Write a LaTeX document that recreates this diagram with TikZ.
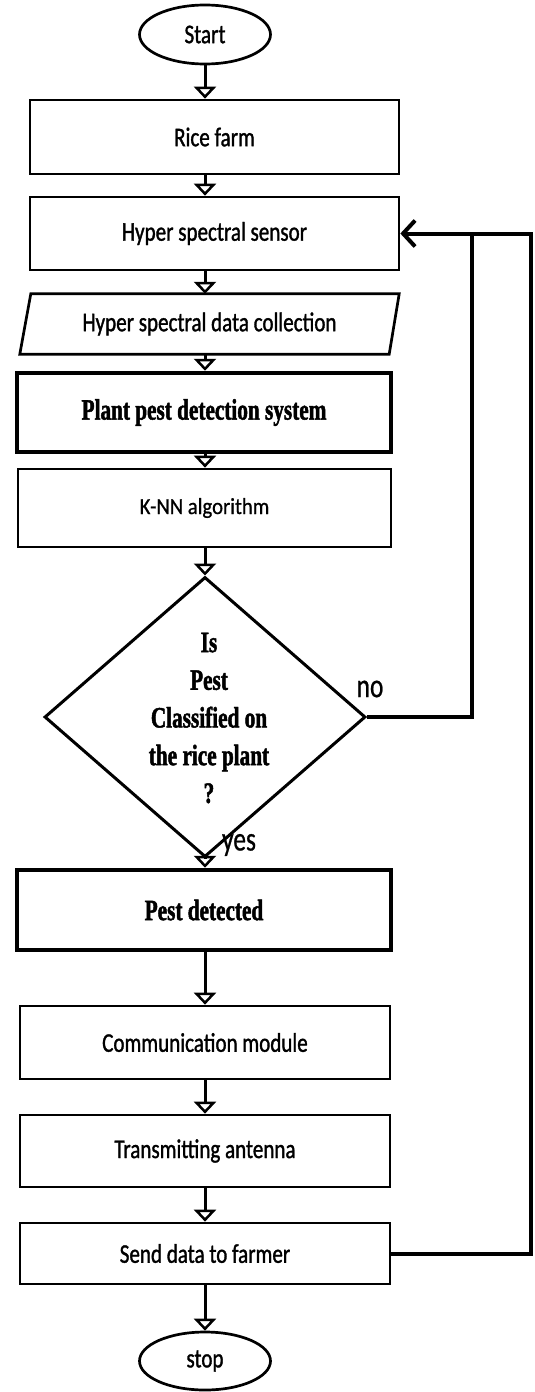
\documentclass[tikz,border=0pt]{standalone}
\usepackage{fontspec}
\setmainfont{Carlito}
\newfontfamily\calfont[FakeStretch=0.78,FakeBold=1.2]{Carlito}
\newfontfamily\knnfont[FakeStretch=0.9,FakeBold=0.8]{Carlito}
\newfontfamily\lblfont[FakeStretch=0.75,FakeBold=0.6]{Carlito}
\newfontfamily\timesfont[FakeStretch=0.72,FakeBold=1.6]{Liberation Serif}
\usetikzlibrary{arrows.meta,shapes.geometric,calc}
\begin{document}
\begin{tikzpicture}[x=1pt,y=-1pt,
  box/.style={draw, rectangle, line width=2.7pt, inner sep=0pt, font=\calfont\fontsize{27}{30}\selectfont},
  thickbox/.style={box, line width=4.5pt, font=\timesfont\bfseries\fontsize{29.5}{32}\selectfont},
  term/.style={draw, ellipse, line width=2.7pt, inner sep=0pt, minimum width=131pt, font=\calfont\fontsize{27}{30}\selectfont},
  flow/.style={line width=3pt, -{Triangle[open,length=12pt,width=22pt,line width=2.5pt]}},
  fb/.style={line width=4pt},
  lbl/.style={inner sep=0pt, font=\lblfont\fontsize{34}{38}\selectfont}
  ]
\useasboundingbox (0,0) rectangle (535,1392);
\coordinate (ax) at (205,0);

\node[term, minimum height=59pt] (start) at (205,34.5) {Start};
\node[box, minimum width=369pt, minimum height=74pt] (rice) at (214.5,137) {Rice farm};
\node[box, minimum width=369pt, minimum height=73pt] (sensor) at (214.5,233.5) {Hyper spectral sensor};
\node[inner sep=0pt, minimum width=369pt, minimum height=60pt, font=\calfont\fontsize{27}{30}\selectfont] (coll) at (209.5,324) {Hyper spectral data collection};
\draw[line width=2.7pt, line join=miter] ($(coll.north west)+(6,0)$) -- ($(coll.north east)+(5,0)$) -- ($(coll.south east)+(-5,0)$) -- ($(coll.south west)+(-5,0)$) -- cycle;
\node[thickbox, minimum width=374pt, minimum height=79pt] (plant) at (204,412.5) {Plant pest detection system};
\node[box, minimum width=373pt, minimum height=78pt, font=\knnfont\fontsize{23}{26}\selectfont] (knn) at (204.5,508) {K-NN algorithm};
\node[draw, diamond, line width=3pt, inner sep=0pt, minimum width=321pt, minimum height=280pt] (dec) at (205,717) {};
\node[align=center, inner sep=0pt, font=\timesfont\bfseries\fontsize{29.5}{37.7}\selectfont] (dectxt) at (209,718) {Is\\Pest\\Classified on\\the rice plant\\?};
\node[thickbox, minimum width=374pt, minimum height=80pt] (pestd) at (204,910) {Pest detected};
\node[box, minimum width=370pt, minimum height=73pt] (comm) at (205,1042.5) {Communication module};
\node[box, minimum width=370pt, minimum height=72pt] (trans) at (205,1151) {Transmitting antenna};
\node[box, minimum width=370pt, minimum height=61pt] (send) at (205,1253.5) {Send data to farmer};
\node[term, minimum height=58pt] (stop) at (205,1361) {stop};

\node[lbl] (nolbl) at (370,689) {no};
\node[lbl] (yeslbl) at (239,845) {yes};

\draw[flow] (start.south) -- (start.south |- rice.north);
\draw[flow] (ax |- rice.south) -- (ax |- sensor.north);
\draw[flow] (ax |- sensor.south) -- (ax |- coll.north);
\draw[flow] (ax |- coll.south) -- (ax |- plant.north);
\draw[flow] (ax |- plant.south) -- (ax |- knn.north);
\draw[flow] (ax |- knn.south) -- (dec.north);
\draw[flow] (dec.south) -- (dec.south |- pestd.north);
\draw[flow] (ax |- pestd.south) -- (ax |- comm.north);
\draw[flow] (ax |- comm.south) -- (ax |- trans.north);
\draw[flow] (ax |- trans.south) -- (ax |- send.north);
\draw[flow] (ax |- send.south) -- (stop.north);

\coordinate (nojoin) at (472,233.5);
\coordinate (fbcorner) at (531,233.5);
\draw[fb, line join=miter] (dec.east) -| (nojoin);
\draw[fb, line join=miter, -{Straight Barb[length=12pt,width=26pt]}] (send.east) -| (fbcorner) -- (sensor.east);
\end{tikzpicture}
\end{document}
